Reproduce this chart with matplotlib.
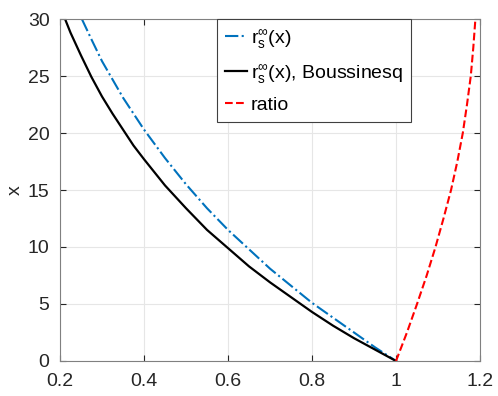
import numpy as np
import matplotlib
matplotlib.use("Agg")
import matplotlib.pyplot as plt

plt.rcParams['font.family'] = ['Liberation Sans', 'DejaVu Sans']
plt.rcParams['mathtext.fontset'] = 'custom'
plt.rcParams['mathtext.rm'] = 'Liberation Sans'
plt.rcParams['mathtext.it'] = 'Liberation Sans'

# values (x on horizontal axis, "x" on vertical axis)
rs_x = [0.252, 0.275, 0.3, 0.325, 0.35, 0.375, 0.4, 0.45, 0.5, 0.55, 0.6,
        0.65, 0.7, 0.75, 0.8, 0.85, 0.9, 0.95, 1.0]
rs_y = [30, 28.2, 26.3, 24.7, 23.1, 21.7, 20.3, 17.8, 15.5, 13.4, 11.5,
        9.8, 8.1, 6.6, 5.1, 3.8, 2.5, 1.2, 0]

bous_x = [0.212, 0.225, 0.25, 0.275, 0.3, 0.325, 0.35, 0.375, 0.4, 0.45, 0.5,
          0.55, 0.6, 0.65, 0.7, 0.75, 0.8, 0.85, 0.9, 0.95, 1.0]
bous_y = [30, 28.8, 26.8, 24.9, 23.2, 21.7, 20.3, 18.9, 17.7, 15.4, 13.4,
          11.5, 9.9, 8.3, 6.9, 5.6, 4.3, 3.1, 2.0, 1.0, 0]

ratio_x = [1.0, 1.026, 1.05, 1.073, 1.094, 1.113, 1.131, 1.146, 1.159,
           1.169, 1.178, 1.184, 1.189]
ratio_y = [0, 2.5, 5, 7.5, 10, 12.5, 15, 17.5, 20, 22.5, 25, 27.5, 30]

fig = plt.figure(figsize=(4.98, 3.96), dpi=100)
ax = fig.add_axes([0.1205, 0.0884, 0.8434, 0.8636])

ax.plot(rs_x, rs_y, color='#0072BD', linestyle='-.', linewidth=1.5,
        label=r'r$_\mathregular{s}^{\infty}$(x)')
ax.plot(bous_x, bous_y, color='black', linestyle='-', linewidth=1.6,
        label=r'r$_\mathregular{s}^{\infty}$(x), Boussinesq')
ax.plot(ratio_x, ratio_y, color='red', linestyle='--', linewidth=1.5,
        label='ratio')

ax.set_xlim(0.2, 1.2)
ax.set_ylim(0, 30)
ax.set_xticks([0.2, 0.4, 0.6, 0.8, 1.0, 1.2])
ax.set_xticklabels(['0.2', '0.4', '0.6', '0.8', '1', '1.2'])
ax.set_yticks([0, 5, 10, 15, 20, 25, 30])
ax.set_ylabel('x', fontsize=14, color='#262626', labelpad=3)

ax.grid(True, color='#e6e6e6', linewidth=0.8)
ax.set_axisbelow(True)
ax.tick_params(direction='in', top=True, right=True, length=4,
               labelsize=14, colors='#262626')
ax.tick_params(axis='x', pad=9)
ax.tick_params(axis='y', pad=7.5)
for s in ax.spines.values():
    s.set_color('#808080')
    s.set_linewidth(0.8)

leg = ax.legend(loc='upper left', bbox_to_anchor=(0.374, 1.0), borderaxespad=0,
                fontsize=14, handlelength=1.1, handletextpad=0.2,
                labelspacing=0.6, borderpad=0.42, fancybox=False,
                framealpha=1, edgecolor='#404040')
leg.get_frame().set_linewidth(0.8)

fig.savefig('out.png', dpi=100)
